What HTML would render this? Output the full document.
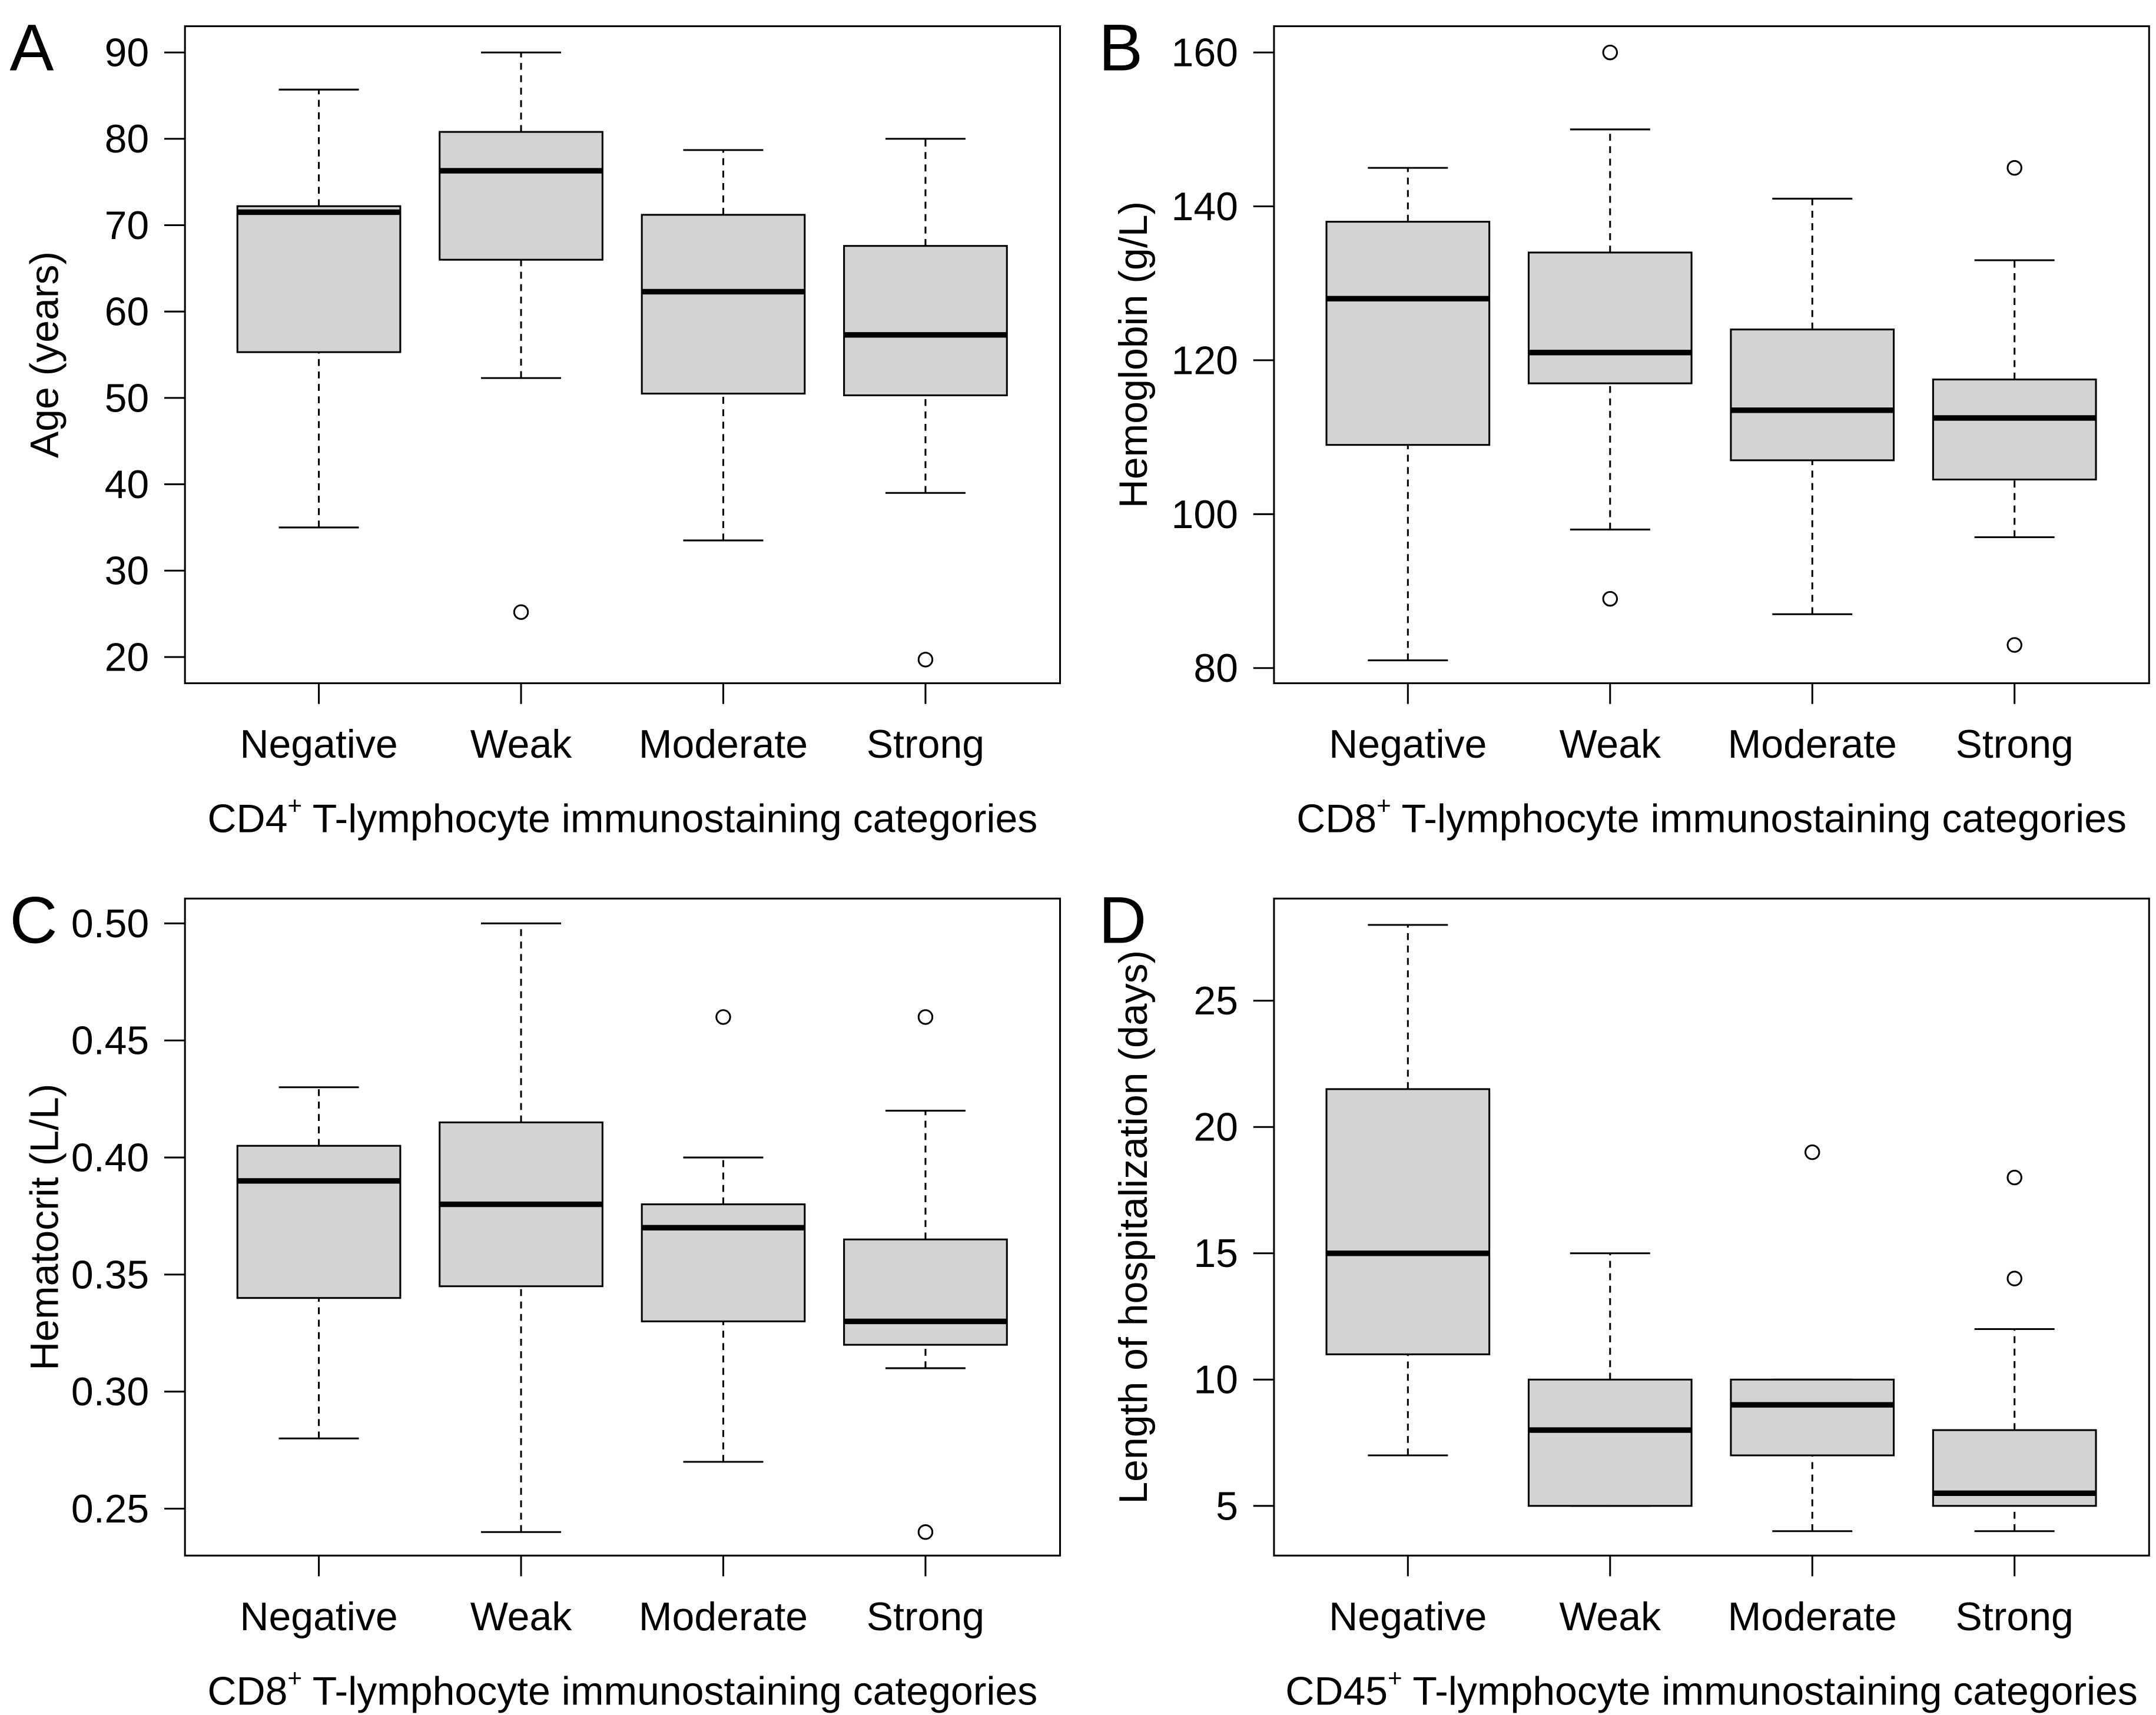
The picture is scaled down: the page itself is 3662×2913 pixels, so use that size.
<!DOCTYPE html>
<html><head><meta charset="utf-8"><style>
html,body{margin:0;padding:0;background:#fff}
svg{display:block}
text{font-family:"Liberation Sans",Arial,sans-serif;fill:#000}
</style></head><body>
<svg id="chart" width="3662" height="2913" viewBox="0 0 1562 1242.5" preserveAspectRatio="none" xmlns="http://www.w3.org/2000/svg"></svg>
<script>
const categories = ["Negative","Weak","Moderate","Strong"];
// stats per category: [lowWhisker, q1, median, q3, highWhisker]
const statsA = [[35,55.3,71.5,72.2,85.7],[52.3,66,76.3,80.8,90],[33.5,50.5,62.3,71.2,78.7],[39,50.3,57.3,67.6,80]];
const outliersA = [[],[25.2],[],[19.7]];
const ticksA = [20,30,40,50,60,70,80,90];
const statsB = [[81,109,128,138,145],[98,117,121,134,150],[87,107,113.5,124,141],[97,104.5,112.5,117.5,133]];
const outliersB = [[],[160,89],[],[145,83]];
const ticksB = [80,100,120,140,160];
const statsC = [[0.28,0.34,0.39,0.405,0.43],[0.24,0.345,0.38,0.415,0.50],[0.27,0.33,0.37,0.38,0.40],[0.31,0.32,0.33,0.365,0.42]];
const outliersC = [[],[],[0.46],[0.46,0.24]];
const ticksC = [0.25,0.30,0.35,0.40,0.45,0.50];
const statsD = [[7,11,15,21.5,28],[5,5,8,10,15],[4,7,9,10,10],[4,5,5.5,8,12]];
const outliersD = [[],[],[19],[18,14]];
const ticksD = [5,10,15,20,25];

const svg = document.getElementById('chart');
const NS = 'http://www.w3.org/2000/svg';
const FS = 29;
function mk(tag, attrs, parent){const e=document.createElementNS(NS,tag);for(const k in attrs)e.setAttribute(k,attrs[k]);(parent||svg).appendChild(e);return e;}

function panel(o){
  const g = mk('g',{});
  
  
  const L=o.x0, R=o.x0+634, T=o.y0, B=o.y0+476;
  const y = v => o.py1 + (v - o.v1)*(o.py2-o.py1)/(o.v2-o.v1);
  const cx = i => L + 97 + i*146.5;
  const frame = mk('rect',{x:L,y:T,width:R-L,height:B-T,fill:'none',stroke:'#000','stroke-width':1.3},g);
  
  
  const lt = mk('text',{x:L-127,y:T+32,'font-size':48},g); lt.textContent=o.letter;
  
  
  o.ticks.forEach(t=>{
    mk('line',{x1:L-15,x2:L,y1:y(t),y2:y(t),stroke:'#000','stroke-width':1.3},g);
    const tx = mk('text',{x:L-26,y:y(t)+10,'font-size':FS,'text-anchor':'end'},g);
    tx.textContent = o.fmt(t);
    
    
  });
  const yt = mk('text',{x:0,y:0,'font-size':FS,'text-anchor':'middle',transform:`translate(${L-92},${T+238}) rotate(-90)`},g);
  yt.textContent=o.ytitle;
  
  
  categories.forEach((c,i)=>{
    const x=cx(i), s=o.stats[i];
    mk('line',{x1:x,x2:x,y1:B,y2:B+15,stroke:'#000','stroke-width':1.3},g);
    const cl = mk('text',{x:x,y:B+54,'font-size':FS,'text-anchor':'middle'},g); cl.textContent=c;
    
    
    const bg = mk('g',{},g);
    
    
    mk('line',{x1:x,x2:x,y1:y(s[0]),y2:y(s[1]),stroke:'#000','stroke-width':1.3,'stroke-dasharray':'5,4'},bg);
    mk('line',{x1:x,x2:x,y1:y(s[3]),y2:y(s[4]),stroke:'#000','stroke-width':1.3,'stroke-dasharray':'5,4'},bg);
    mk('line',{x1:x-29,x2:x+29,y1:y(s[0]),y2:y(s[0]),stroke:'#000','stroke-width':1.3},bg);
    mk('line',{x1:x-29,x2:x+29,y1:y(s[4]),y2:y(s[4]),stroke:'#000','stroke-width':1.3},bg);
    mk('rect',{x:x-59,y:y(s[3]),width:118,height:Math.max(0.5,y(s[1])-y(s[3])),fill:'#d3d3d3',stroke:'#000','stroke-width':1.3},bg);
    mk('line',{x1:x-59,x2:x+59,y1:y(s[2]),y2:y(s[2]),stroke:'#000','stroke-width':4},bg);
    o.out[i].forEach(v=>{
      const p = mk('circle',{cx:x,cy:y(v),r:5,fill:'#fff',stroke:'#000','stroke-width':1.3},bg);
      
      
    });
  });
  const xt = mk('text',{x:(L+R)/2,y:B+108,'font-size':FS,'text-anchor':'middle'},g);
  xt.innerHTML = o.marker+'<tspan font-size="18" dy="-13">+</tspan><tspan dy="13"> T-lymphocyte immunostaining categories</tspan>';
  
  
}
panel({letter:'A',x0:134,y0:19,stats:statsA,out:outliersA,ticks:ticksA,v1:90,py1:38,v2:20,py2:476,fmt:t=>String(t),ytitle:'Age (years)',marker:'CD4'});
panel({letter:'B',x0:923,y0:19,stats:statsB,out:outliersB,ticks:ticksB,v1:160,py1:38,v2:80,py2:484,fmt:t=>String(t),ytitle:'Hemoglobin (g/L)',marker:'CD8'});
panel({letter:'C',x0:134,y0:651,stats:statsC,out:outliersC,ticks:ticksC,v1:0.50,py1:669,v2:0.25,py2:1093,fmt:t=>t.toFixed(2),ytitle:'Hematocrit (L/L)',marker:'CD8'});
panel({letter:'D',x0:923,y0:651,stats:statsD,out:outliersD,ticks:ticksD,v1:25,py1:725,v2:5,py2:1091,fmt:t=>String(t),ytitle:'Length of hospitalization (days)',marker:'CD45'});
</script>
</body></html>
